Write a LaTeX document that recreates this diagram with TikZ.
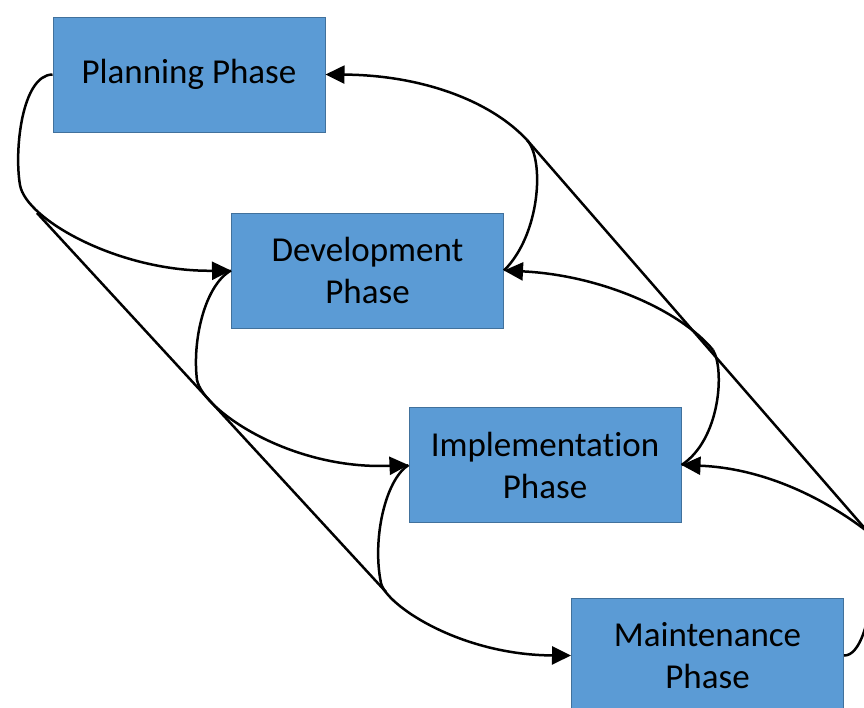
\documentclass[tikz,border=0pt]{standalone}
\usepackage{fontspec}
\setmainfont[Ligatures=NoCommon]{Carlito}
\usetikzlibrary{arrows.meta}
\definecolor{phasefill}{HTML}{5B9BD5}
\definecolor{phaseedge}{HTML}{41719C}
\tikzset{
  phasebox/.style={rectangle,fill=phasefill,draw=phaseedge,line width=1pt,
    minimum width=272pt,minimum height=115pt,inner sep=0pt,align=center,
    font=\fontsize{35}{42}\selectfont},
  flowline/.style={line width=2.5pt,-{Triangle[length=19pt,width=18pt]}},
  joinline/.style={line width=2.5pt}
}
\begin{document}
\begin{tikzpicture}[x=1pt,y=-1pt]
\useasboundingbox (0,0) rectangle (864,707);
\clip (0,0) rectangle (864,707);
%phases
\node[phasebox] (plan) at (189,74.5) {Planning Phase};
\node[phasebox] (dev) at (367.5,270.5) {Development\\Phase};
\node[phasebox] (impl) at (545,465) {Implementation\\Phase};
\node[phasebox] (maint) at (707.5,655.5) {Maintenance\\Phase};
%junctions
\coordinate (topj) at (527,140);
\coordinate (midj) at (713,350);
\coordinate (lowj) at (868,532);
\coordinate (leftj) at (37,213);
%forward flow, left side
\draw[flowline] (plan.west) .. controls (22,75) and (14,150) .. (20,185)
  .. controls (26,220) and (120,272) .. (dev.west);
\draw[flowline] (dev.west) .. controls (205,285) and (192,340) .. (197,380)
  .. controls (203,410) and (290,470) .. (impl.west);
\draw[flowline] (impl.west) .. controls (385,480) and (372,540) .. (381,583)
  .. controls (386,605) and (460,655) .. (maint.west);
\draw[joinline] (leftj) -- (386,592);
%feedback, right side
\draw[joinline] (maint.east) .. controls (860,656) and (870,620) .. (871,590)
  .. controls (872,565) and (870,545) .. (lowj);
\draw[joinline] (lowj) -- (topj);
\draw[flowline] (lowj) .. controls (820,495) and (760,468) .. (impl.east);
\draw[joinline] (midj) .. controls (725,370) and (720,440) .. (impl.east);
\draw[flowline] (midj) .. controls (680,310) and (600,275) .. (dev.east);
\draw[joinline] (topj) .. controls (545,160) and (540,235) .. (dev.east);
\draw[flowline] (topj) .. controls (490,100) and (420,75) .. (plan.east);
\end{tikzpicture}
\end{document}
